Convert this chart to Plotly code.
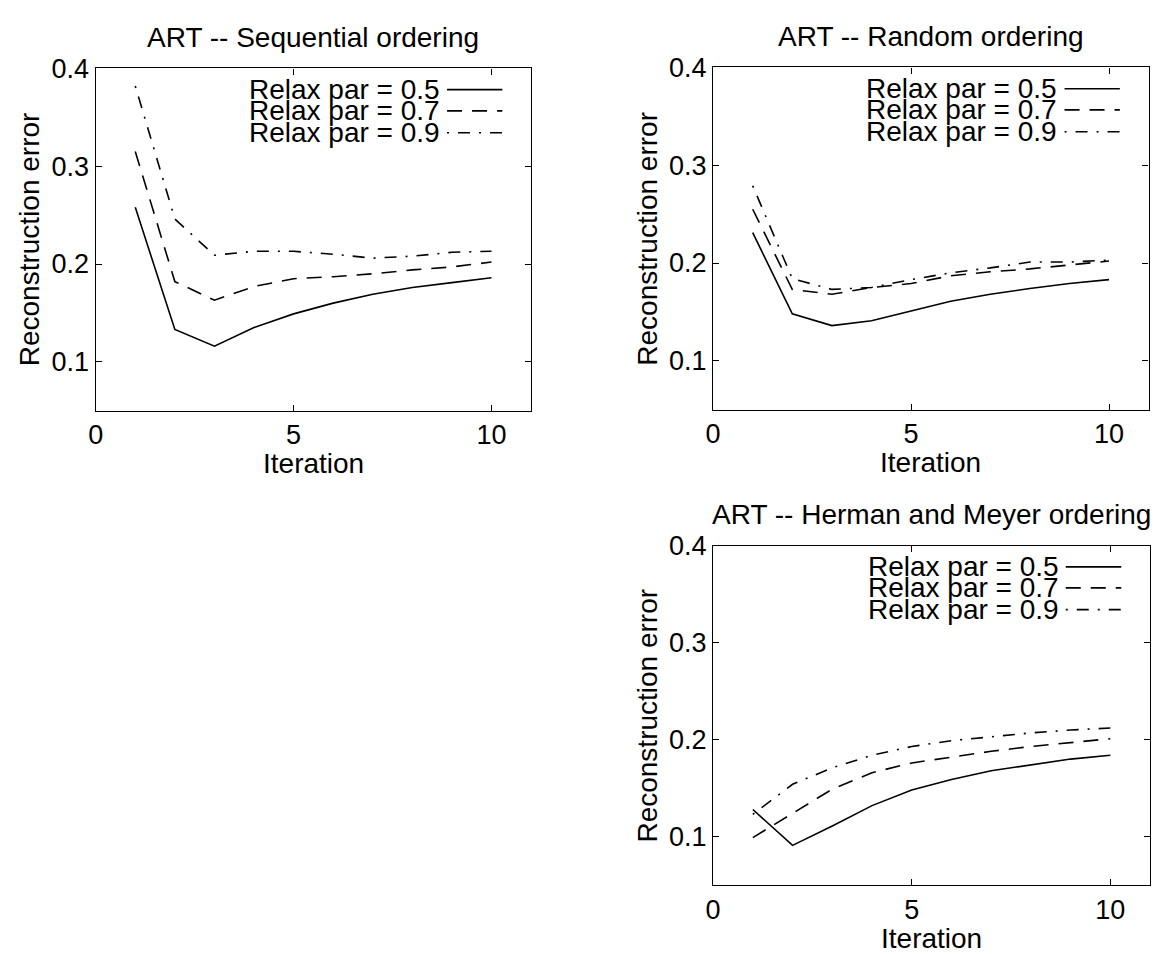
import plotly.graph_objects as go

# Iteration numbers shared by all three panels
iterations = [1, 2, 3, 4, 5, 6, 7, 8, 9, 10]

# Reconstruction error per relaxation parameter, sequential ordering
seq_05 = [0.258, 0.133, 0.116, 0.135, 0.149, 0.160, 0.169, 0.176, 0.181, 0.186]
seq_07 = [0.315, 0.182, 0.163, 0.177, 0.185, 0.187, 0.190, 0.194, 0.197, 0.202]
seq_09 = [0.382, 0.246, 0.209, 0.213, 0.213, 0.210, 0.206, 0.208, 0.212, 0.213]

# Random ordering
rnd_05 = [0.231, 0.148, 0.136, 0.141, 0.151, 0.161, 0.168, 0.174, 0.179, 0.183]
rnd_07 = [0.255, 0.173, 0.168, 0.175, 0.179, 0.187, 0.191, 0.194, 0.198, 0.202]
rnd_09 = [0.279, 0.184, 0.173, 0.175, 0.183, 0.190, 0.195, 0.201, 0.201, 0.203]

# Herman and Meyer ordering
hm_05 = [0.128, 0.091, 0.111, 0.132, 0.148, 0.159, 0.168, 0.174, 0.180, 0.184]
hm_07 = [0.099, 0.124, 0.149, 0.166, 0.176, 0.182, 0.188, 0.193, 0.197, 0.201]
hm_09 = [0.123, 0.154, 0.171, 0.184, 0.193, 0.199, 0.203, 0.207, 0.210, 0.212]

panel_titles = [
    "ART -- Sequential ordering",
    "ART -- Random ordering",
    "ART -- Herman and Meyer ordering",
]
series_labels = ["Relax par = 0.5", "Relax par = 0.7", "Relax par = 0.9"]
x_ticks = [0, 5, 10]
y_ticks = [0.1, 0.2, 0.3, 0.4]

FONT = "Liberation Sans, Arial, Helvetica, sans-serif"
W, H = 1163, 954
dashes = ["solid", "15px,10px", "2px,9px,12px,9px"]

# Plot areas in pixels: (left, right, top, bottom)
boxes = [
    (88.3, 526.7, 54.3, 402.0),
    (710.0, 1148.5, 53.3, 401.0),
    (710.0, 1150.0, 539.3, 884.0),
]
panels = [
    [seq_05, seq_07, seq_09],
    [rnd_05, rnd_07, rnd_09],
    [hm_05, hm_07, hm_09],
]

fig = go.Figure()
annotations = []
shapes = []

for i, (series, box, title) in enumerate(zip(panels, boxes, panel_titles)):
    n = "" if i == 0 else str(i + 1)
    xa, ya = "x" + n, "y" + n
    left, right, top, bottom = box
    for vals, dash in zip(series, dashes):
        fig.add_trace(go.Scatter(
            x=iterations, y=vals, mode="lines",
            line=dict(color="black", width=1.6, dash=dash),
            xaxis=xa, yaxis=ya, showlegend=False, hoverinfo="skip",
        ))
    axis_common = dict(
        showline=True, linecolor="black", linewidth=1.3, mirror="ticks",
        ticks="inside", ticklen=6, tickwidth=1.2, tickcolor="black",
        showgrid=False, zeroline=False,
        tickfont=dict(family=FONT, size=27, color="black"),
    )
    fig.layout["xaxis" + n] = dict(
        domain=[left / W, right / W], anchor=ya, range=[0, 11],
        tickvals=x_ticks, ticktext=[str(v) for v in x_ticks], **axis_common,
    )
    fig.layout["yaxis" + n] = dict(
        domain=[1 - bottom / H, 1 - top / H], anchor=xa, range=[0.05, 0.4],
        tickvals=y_ticks, ticktext=[f"{v:.1f}" for v in y_ticks], **axis_common,
    )
    xd, yd = xa + " domain", ya + " domain"
    # panel title
    annotations.append(dict(
        text=title, xref=xd, yref=yd, x=0.5, y=1, yshift=31,
        xanchor="center", yanchor="middle", showarrow=False,
        font=dict(family=FONT, size=28, color="black"),
    ))
    # axis titles
    annotations.append(dict(
        text="Iteration", xref=xd, yref=yd, x=0.5, y=0, yshift=-53,
        xanchor="center", yanchor="middle", showarrow=False,
        font=dict(family=FONT, size=28, color="black"),
    ))
    annotations.append(dict(
        text="Reconstruction error", xref=xd, yref=yd, x=0, y=0.5, xshift=-66,
        xanchor="center", yanchor="middle", textangle=-90, showarrow=False,
        font=dict(family=FONT, size=28, color="black"),
    ))
    # key: label followed by a line sample
    for label, dash, ky in zip(series_labels, dashes, [0.938, 0.876, 0.812]):
        annotations.append(dict(
            text=label, xref=xd, yref=yd, x=0.795, y=ky,
            xanchor="right", yanchor="middle", showarrow=False,
            font=dict(family=FONT, size=28, color="black"),
        ))
        shapes.append(dict(
            type="line", xref=xd, yref=yd, x0=0.807, x1=0.934, y0=ky, y1=ky,
            line=dict(color="black", width=1.6, dash=dash),
        ))

fig.update_layout(
    width=W, height=H,
    margin=dict(l=0, r=0, t=0, b=0),
    paper_bgcolor="white", plot_bgcolor="white",
    font=dict(family=FONT, color="black"),
    annotations=annotations, shapes=shapes,
    showlegend=False,
)

fig.write_html("out.html")
